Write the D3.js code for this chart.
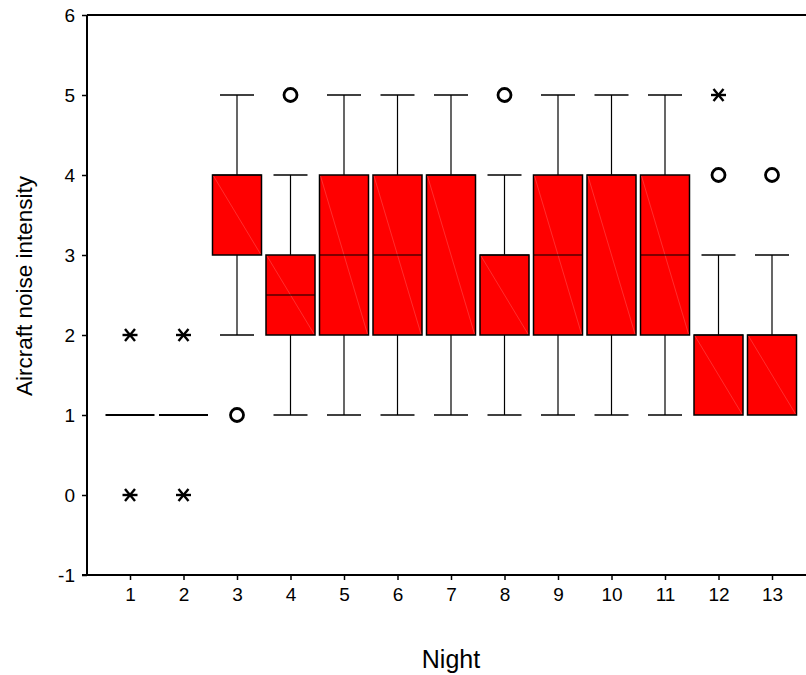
<!DOCTYPE html>
<html>
<head>
<meta charset="utf-8">
<script src="https://cdn.jsdelivr.net/npm/d3@7"></script>
<style>
  html, body { margin: 0; padding: 0; background: #fff; }
  svg { display: block; font-family: "Liberation Sans", Arial, sans-serif; }
</style>
</head>
<body>
<svg id="chart" width="806" height="675"></svg>
<script>
// Nights and box-plot summaries of aircraft noise intensity
const nights   = [1, 2, 3, 4, 5, 6, 7, 8, 9, 10, 11, 12, 13];
const lowWhisk = [1, 1, 2, 1, 1, 1, 1, 1, 1, 1, 1, 1, 1];
const q1       = [1, 1, 3, 2, 2, 2, 2, 2, 2, 2, 2, 1, 1];
const medians  = [1, 1, 4, 2.5, 3, 3, 4, 3, 3, 4, 3, 2, 2];
const q3       = [1, 1, 4, 3, 4, 4, 4, 3, 4, 4, 4, 2, 2];
const highWhisk= [1, 1, 5, 4, 5, 5, 5, 4, 5, 5, 5, 3, 3];
// outliers: [night, value, kind] — "o" outlier, "x" extreme
const outliers = [
  [1, 2, "x"], [1, 0, "x"],
  [2, 2, "x"], [2, 0, "x"],
  [3, 1, "o"],
  [4, 5, "o"],
  [8, 5, "o"],
  [12, 5, "x"], [12, 4, "o"],
  [13, 4, "o"]
];
const yTicks = [-1, 0, 1, 2, 3, 4, 5, 6];

const svg = d3.select("#chart");
const plotLeft = 87, plotRight = 815, plotTop = 15, plotBottom = 575;
const font = "'Liberation Sans', Arial, sans-serif";

const x = d3.scaleLinear().domain([1, 13]).range([130, 772]);
const y = d3.scaleLinear().domain([-1, 6]).range([plotBottom, plotTop]);

const boxHalf = 24.5, capHalf = 17;

// frame: top line
svg.append("line")
  .attr("x1", plotLeft).attr("x2", plotRight).attr("y1", y(6)).attr("y2", y(6))
  .attr("stroke", "#000").attr("stroke-width", 2);

// y axis
const yAxis = svg.append("g").attr("transform", `translate(${plotLeft},0)`)
  .call(d3.axisLeft(y).tickValues(yTicks).tickFormat(d => String(d)).tickSize(5).tickPadding(7));
yAxis.select(".domain").attr("stroke-width", 2).attr("d", `M0,${plotBottom}V${plotTop}`);
yAxis.selectAll(".tick line").attr("stroke-width", 1.5);
yAxis.selectAll("text").style("font-size", "19px").style("font-family", font).attr("fill", "#000");

// x axis
const xAxis = svg.append("g").attr("transform", `translate(0,${plotBottom})`)
  .call(d3.axisBottom(x).tickValues(nights).tickFormat(d => String(d)).tickSize(5).tickPadding(8));
xAxis.select(".domain").attr("stroke-width", 2).attr("d", `M${plotLeft - 5},0H${plotRight}`);
xAxis.selectAll(".tick line").attr("stroke-width", 1.5);
xAxis.selectAll("text").style("font-size", "19px").style("font-family", font).attr("fill", "#000");

// box plots
const data = nights.map((n, i) => ({
  n, lo: lowWhisk[i], q1: q1[i], med: medians[i], q3: q3[i], hi: highWhisk[i]
}));

const g = svg.append("g");
data.forEach(d => {
  const cx = x(d.n);
  const grp = g.append("g");
  // whiskers
  if (d.hi > d.q3) {
    grp.append("line").attr("x1", cx).attr("x2", cx).attr("y1", y(d.q3)).attr("y2", y(d.hi))
      .attr("stroke", "#000").attr("stroke-width", 1.2);
    grp.append("line").attr("x1", cx - capHalf).attr("x2", cx + capHalf).attr("y1", y(d.hi)).attr("y2", y(d.hi))
      .attr("stroke", "#000").attr("stroke-width", 1.5);
  }
  if (d.lo < d.q1) {
    grp.append("line").attr("x1", cx).attr("x2", cx).attr("y1", y(d.q1)).attr("y2", y(d.lo))
      .attr("stroke", "#000").attr("stroke-width", 1.2);
    grp.append("line").attr("x1", cx - capHalf).attr("x2", cx + capHalf).attr("y1", y(d.lo)).attr("y2", y(d.lo))
      .attr("stroke", "#000").attr("stroke-width", 1.5);
  }
  if (d.q3 > d.q1) {
    grp.append("rect")
      .attr("x", cx - boxHalf).attr("y", y(d.q3))
      .attr("width", boxHalf * 2).attr("height", y(d.q1) - y(d.q3))
      .attr("fill", "#ff0000").attr("stroke", "#000").attr("stroke-width", 1.5);
    // faint fill seam across the box
    grp.append("line")
      .attr("x1", cx - boxHalf + 1).attr("y1", y(d.q3) + 1)
      .attr("x2", cx + boxHalf - 1).attr("y2", y(d.q1) - 1)
      .attr("stroke", "#ff5a5a").attr("stroke-width", 0.5);
    grp.append("line").attr("x1", cx - boxHalf).attr("x2", cx + boxHalf)
      .attr("y1", y(d.med)).attr("y2", y(d.med))
      .attr("stroke", "#000").attr("stroke-width", 1.2);
  } else {
    grp.append("line").attr("x1", cx - boxHalf).attr("x2", cx + boxHalf)
      .attr("y1", y(d.med)).attr("y2", y(d.med))
      .attr("stroke", "#000").attr("stroke-width", 2.2);
  }
});

// outliers
outliers.forEach(([n, v, kind]) => {
  const cx = x(n), cy = y(v);
  if (kind === "o") {
    svg.append("circle").attr("cx", cx).attr("cy", cy).attr("r", 6.5)
      .attr("fill", "none").attr("stroke", "#000").attr("stroke-width", 2.8);
  } else {
    const r = 7.5, s = 5;
    const star = svg.append("g").attr("stroke", "#000").attr("stroke-width", 2.4);
    star.append("line").attr("x1", cx - r).attr("x2", cx + r).attr("y1", cy).attr("y2", cy);
    star.append("line").attr("x1", cx - s).attr("x2", cx + s).attr("y1", cy - s - 1).attr("y2", cy + s + 1);
    star.append("line").attr("x1", cx - s).attr("x2", cx + s).attr("y1", cy + s + 1).attr("y2", cy - s - 1);
  }
});

// axis titles
svg.append("text")
  .attr("transform", `translate(32,${286}) rotate(-90)`)
  .attr("text-anchor", "middle").attr("font-size", 22.5).attr("fill", "#000").attr("font-family", font)
  .text("Aircraft noise intensity");
svg.append("text")
  .attr("x", 451).attr("y", 668)
  .attr("text-anchor", "middle").attr("font-size", 25).attr("fill", "#000").attr("font-family", font)
  .text("Night");
</script>
</body>
</html>
